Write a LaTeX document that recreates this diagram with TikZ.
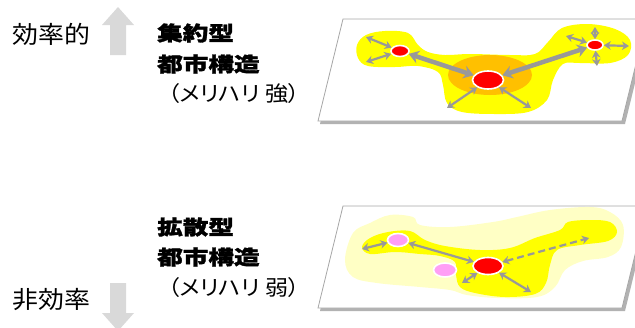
\documentclass[tikz,border=0pt]{standalone}
\usepackage{fontspec}
\usetikzlibrary{arrows.meta,shapes.geometric}
\newfontfamily\jpside[FakeStretch=1.08]{Noto Sans CJK JP}
\newfontfamily\jphead[FakeStretch=1.28,FakeBold=1.6]{Noto Sans CJK JP}
\newfontfamily\jpnote[FakeStretch=1.1,RawFeature=+palt]{Noto Sans CJK JP}
\definecolor{linkgray}{HTML}{999999}
\definecolor{cityred}{HTML}{FF0000}
\definecolor{citypink}{HTML}{FF9EF5}
\definecolor{core}{HTML}{FFC000}
\definecolor{urban}{HTML}{FFFF00}
\definecolor{suburb}{HTML}{FFFFC5}
\definecolor{markgray}{HTML}{D9D9D9}
\definecolor{edgegray}{HTML}{A6A6A6}
\begin{document}
\begin{tikzpicture}[x=1pt,y=-1pt,
    side/.style={anchor=west,inner sep=0pt,font=\jpside\fontsize{24}{26}\selectfont},
    head/.style={anchor=west,inner sep=0pt,font=\jphead\bfseries\fontsize{20}{22}\selectfont},
    note/.style={anchor=west,inner sep=0pt,font=\jpnote\fontsize{21}{24}\selectfont},
    city/.style={ellipse,draw=white,line width=1.6pt,inner sep=0pt},
    hub/.style={city,fill=cityred},
    town/.style={city,fill=citypink},
    link/.style={draw=linkgray,line width=2.2pt,{Stealth[length=7pt,width=8.5pt]}-{Stealth[length=7pt,width=8.5pt]}},
    trunk/.style={draw=linkgray,line width=4.5pt,{Stealth[length=10pt,width=13pt]}-{Stealth[length=10pt,width=13pt]}},
    sheet/.style={fill=white,draw=edgegray,line width=0.8pt},
    shadow/.style={fill=black!30}]
    \clip (0,0) rectangle (635,327);

    %% Labels
    \node[side] (eff) at (12,34) {効率的};
    \node[side] (ineff) at (12,300) {非効率};
    \fill[markgray] (110,55) -- (110,25) -- (102,25) -- (118,7) -- (134,25) -- (126,25) -- (126,55) -- cycle;
    \fill[markgray] (110,283) -- (110,313) -- (102,313) -- (118,331) -- (134,313) -- (126,313) -- (126,283) -- cycle;
    \node[head] (compact1) at (157,33) {集約型};
    \node[head] (compact2) at (157,64) {都市構造};
    \node[note] (compact3) at (168,94) {（メリハリ 強）};
    \node[head] (sprawl1) at (157,227) {拡散型};
    \node[head] (sprawl2) at (157,257) {都市構造};
    \node[note] (sprawl3) at (168,288) {（メリハリ 弱）};

    %% Compact city
    \fill[shadow] (345,22) -- (650,22) -- (625,124) -- (320,124) -- cycle;
    \draw[sheet] (343,19) -- (647,19) -- (622,121) -- (318,121) -- cycle;
    \fill[urban] plot[smooth cycle,tension=0.6] coordinates {(357,45) (366,35) (385,31) (408,33)
        (418,45) (428,52) (445,55) (470,54) (510,55) (535,54) (548,42) (562,28) (588,24) (615,29)
        (630,40) (628,55) (610,63) (580,63) (563,64) (553,80) (547,100) (528,112) (495,114)
        (462,112) (447,103) (443,85) (438,72) (418,66) (395,67) (368,66) (358,58)};
    \fill[core] (490,75) ellipse (42 and 20);
    \node[hub,minimum width=18pt,minimum height=11pt] (west) at (400,51) {};
    \node[hub,minimum width=31pt,minimum height=18pt] (centre) at (488,80) {};
    \node[hub,minimum width=16pt,minimum height=10pt] (east) at (595,45) {};
    \coordinate (wnw) at (366,37);
    \coordinate (wsw) at (366,62);
    \coordinate (csw) at (447,108);
    \coordinate (cse) at (531,108);
    \coordinate (enw) at (566,36);
    \coordinate (ee) at (629,46);
    \coordinate (en) at (595,27);
    \coordinate (es) at (597,66);
    \draw[trunk] (west) -- (centre);
    \draw[trunk] (centre) -- (east);
    \foreach \p in {wnw,wsw} \draw[link] (west) -- (\p);
    \foreach \p in {csw,cse} \draw[link] (centre) -- (\p);
    \foreach \p in {enw,ee,en,es} \draw[link] (east) -- (\p);

    %% Sprawled city
    \fill[shadow] (345,209) -- (650,209) -- (625,311) -- (320,311) -- cycle;
    \draw[sheet] (343,206) -- (647,206) -- (622,308) -- (318,308) -- cycle;
    \fill[suburb] plot[smooth cycle,tension=0.6] coordinates {(345,260) (353,233) (370,223) (390,215)
        (413,217) (420,225) (450,227) (493,222) (517,217) (550,210) (590,207) (610,212) (623,225)
        (621,247) (608,257) (583,261) (565,270) (555,287) (537,297) (497,298) (467,295) (450,290)
        (420,287) (377,283) (353,277)};
    \fill[urban] plot[smooth cycle,tension=0.6] coordinates {(362,247) (370,238) (388,232) (410,231)
        (425,240) (445,246) (480,250) (510,248) (535,238) (560,230) (568,222) (590,220) (610,222)
        (617,232) (608,241) (580,245) (557,250) (550,265) (546,283) (535,294) (505,297) (475,293)
        (460,287) (456,275) (455,262) (440,256) (420,254) (395,252) (370,254)};
    \node[town,minimum width=21pt,minimum height=13pt] (old) at (398,240) {};
    \node[town,minimum width=23pt,minimum height=14pt] (new) at (445,270) {};
    \node[hub,minimum width=30pt,minimum height=17pt] (main) at (488,266) {};
    \coordinate (ow) at (362,249);
    \coordinate (msw) at (462,283);
    \coordinate (mse) at (531,292);
    \coordinate (mne) at (589,238);
    \draw[link] (old) -- (ow);
    \draw[link] (old) -- (main);
    \draw[link] (main) -- (msw);
    \draw[link] (main) -- (mse);
    \draw[link,dash pattern=on 7pt off 4pt] (main) -- (mne);
\end{tikzpicture}
\end{document}
